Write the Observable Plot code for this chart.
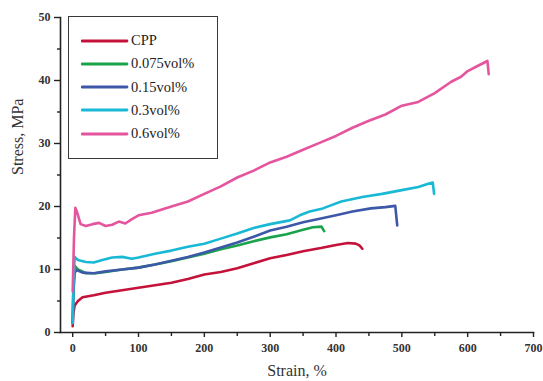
<!DOCTYPE html>
<html>
<head>
<meta charset="utf-8">
<script src="https://cdn.jsdelivr.net/npm/d3@7"></script>
<script src="https://cdn.jsdelivr.net/npm/@observablehq/plot@0.6"></script>
<style>
  body { margin: 0; background: #fff; }
  #wrap { position: relative; width: 543px; height: 381px; font-family: "Liberation Serif", "Times New Roman", serif; }
  #legend { position: absolute; left: 68px; top: 16px; width: 150px; height: 143px; border: 1.5px solid #3a3a3a; box-sizing: border-box; background: #fff; }
  #legend .row { position: absolute; left: 12px; height: 16px; display: flex; align-items: center; font-size: 14.5px; color: #222; }
  #legend .row svg { margin-right: 2px; }
</style>
</head>
<body>
<div id="wrap"></div>
<script>
// ---- data ----
const seriesNames = ["CPP", "0.075vol%", "0.15vol%", "0.3vol%", "0.6vol%"];
const seriesColors = ["#c4123a", "#1ba34b", "#3d58a8", "#19b9d6", "#e5559d"];

const cppStrain = [0, 1, 3, 8, 15, 32, 50, 75, 100, 125, 150, 175, 200, 225, 250, 275, 300, 325, 350, 377, 400, 418, 430, 436, 440];
const cppStress = [1.0, 3.0, 4.3, 5.0, 5.6, 5.9, 6.3, 6.7, 7.1, 7.5, 7.9, 8.5, 9.2, 9.6, 10.2, 11.0, 11.8, 12.3, 12.9, 13.4, 13.9, 14.2, 14.1, 13.8, 13.3];

const s075Strain = [0, 1, 3, 8, 20, 35, 50, 75, 100, 125, 150, 175, 200, 225, 250, 275, 300, 325, 350, 365, 378, 382];
const s075Stress = [1.5, 7.0, 10.6, 10.0, 9.4, 9.4, 9.6, 10.0, 10.3, 10.8, 11.3, 11.9, 12.5, 13.2, 13.8, 14.5, 15.1, 15.6, 16.3, 16.7, 16.8, 16.1];

const s15Strain = [0, 1, 3, 6, 15, 32, 50, 75, 100, 125, 150, 175, 200, 225, 250, 275, 300, 325, 350, 377, 400, 425, 453, 475, 490, 493];
const s15Stress = [1.5, 6.0, 9.5, 9.9, 9.5, 9.4, 9.7, 10.0, 10.3, 10.8, 11.4, 12.0, 12.7, 13.5, 14.3, 15.2, 16.2, 16.8, 17.5, 18.1, 18.6, 19.2, 19.7, 19.9, 20.1, 17.0];

const s3Strain = [0, 1, 3, 8, 20, 32, 45, 60, 75, 90, 100, 125, 150, 175, 200, 225, 250, 275, 300, 330, 345, 360, 380, 408, 440, 470, 500, 525, 540, 547, 549];
const s3Stress = [1.5, 7.0, 12.0, 11.5, 11.2, 11.1, 11.5, 11.9, 12.0, 11.7, 11.9, 12.5, 13.0, 13.6, 14.1, 14.9, 15.7, 16.6, 17.2, 17.8, 18.6, 19.2, 19.7, 20.8, 21.5, 22.0, 22.6, 23.1, 23.6, 23.8, 22.0];

const s6Strain = [0, 2, 4, 7, 12, 20, 30, 40, 50, 60, 70, 80, 90, 100, 120, 150, 175, 200, 225, 250, 275, 300, 325, 350, 375, 400, 425, 450, 475, 500, 525, 550, 575, 590, 600, 615, 630, 632];
const s6Stress = [6.5, 15.0, 19.8, 19.0, 17.2, 16.9, 17.2, 17.4, 16.9, 17.1, 17.6, 17.3, 18.0, 18.6, 19.0, 20.0, 20.8, 22.0, 23.2, 24.6, 25.7, 27.0, 27.9, 29.0, 30.1, 31.2, 32.5, 33.6, 34.6, 36.0, 36.6, 38.0, 39.8, 40.6, 41.5, 42.3, 43.1, 41.0];

const xTicks = [0, 100, 200, 300, 400, 500, 600, 700];
const yTicks = [0, 10, 20, 30, 40, 50];

// ---- build table ----
const strains = [cppStrain, s075Strain, s15Strain, s3Strain, s6Strain];
const stresses = [cppStress, s075Stress, s15Stress, s3Stress, s6Stress];
const rows = [];
seriesNames.forEach((name, i) => {
  strains[i].forEach((x, j) => rows.push({series: name, strain: x, stress: stresses[i][j]}));
});

const tickFont = {fontFamily: "Liberation Serif, serif", fontSize: 12, fontWeight: "bold", fill: "#333"};

const chart = Plot.plot({
  width: 543,
  height: 381,
  marginLeft: 60,
  marginRight: 10,
  marginTop: 17,
  marginBottom: 49,
  style: {fontFamily: "Liberation Serif, serif", background: "#fff", color: "#333"},
  x: {domain: [-18.5, 700], axis: null},
  y: {domain: [0, 50], axis: null},
  color: {domain: seriesNames, range: seriesColors},
  marks: [
    Plot.line(rows, {x: "strain", y: "stress", z: "series", stroke: "series", strokeWidth: 2.6, strokeLinejoin: "round", strokeLinecap: "round"}),
    Plot.frame({anchor: "left", stroke: "#222", strokeWidth: 1.6}),
    Plot.frame({anchor: "bottom", stroke: "#222", strokeWidth: 1.6}),
    Plot.axisX({ticks: xTicks, tickSize: 5, tickPadding: 6, stroke: "#222", strokeWidth: 1.4, label: null, ...tickFont}),
    Plot.axisX({ticks: d3.range(50, 700, 100), tickSize: 4, text: null, stroke: "#222", strokeWidth: 1.4, label: null}),
    Plot.axisY({ticks: yTicks, tickSize: 6, tickPadding: 4, stroke: "#222", strokeWidth: 1.4, label: null, ...tickFont}),
    Plot.axisY({ticks: d3.range(5, 50, 10), tickSize: 3, text: null, stroke: "#222", strokeWidth: 1.4, label: null}),
    Plot.text(["Strain, %"], {frameAnchor: "bottom", dy: 43, fontSize: 16, fill: "#333"}),
    Plot.text(["Stress, MPa"], {frameAnchor: "left", dx: -43, rotate: -90, fontSize: 16, fill: "#333"})
  ]
});

const wrap = document.getElementById("wrap");
wrap.appendChild(chart);

// legend overlay
const legend = document.createElement("div");
legend.id = "legend";
seriesNames.forEach((name, i) => {
  const row = document.createElement("div");
  row.className = "row";
  row.style.top = (15.5 + i * 23.3) + "px";
  row.innerHTML = `<svg width="48" height="6"><line x1="1" y1="3" x2="46" y2="3" stroke="${seriesColors[i]}" stroke-width="2.8" stroke-linecap="round"/></svg><span>${name}</span>`;
  legend.appendChild(row);
});
wrap.appendChild(legend);
</script>
</body>
</html>
